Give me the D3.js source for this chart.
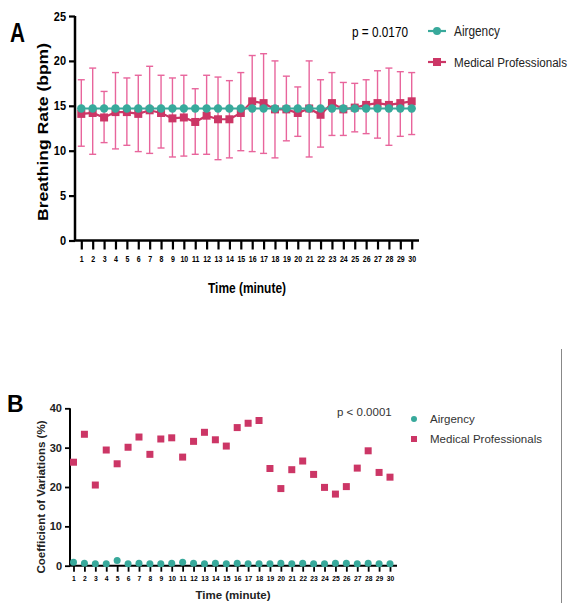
<!DOCTYPE html>
<html>
<head>
<meta charset="utf-8">
<script src="https://cdn.jsdelivr.net/npm/d3@7"></script>
<style>
  body { margin: 0; background: #fff; }
  svg { display: block; }
  text { font-family: "Liberation Sans", Arial, sans-serif; }
</style>
</head>
<body>
<svg id="chart" width="573" height="603"></svg>
<script>
// The data
var minutes = d3.range(1, 31);

// panel A: breathing rate mean and SD
var airgencyRate = [14.7,14.7,14.7,14.7,14.7,14.7,14.7,14.7,14.7,14.7,14.7,14.7,14.7,14.7,14.7,
                    14.7,14.7,14.7,14.7,14.7,14.7,14.7,14.7,14.7,14.7,14.7,14.7,14.7,14.7,14.7];
var medRate = [14.1,14.2,13.7,14.3,14.3,14.1,14.5,14.2,13.6,13.7,13.2,13.9,13.5,13.5,14.2,
               15.5,15.3,14.6,14.6,14.2,14.7,14.0,15.3,14.6,14.8,15.1,15.3,15.1,15.3,15.5];
var medRateHi = [17.9,19.2,16.6,18.7,18.1,18.4,19.4,18.4,18.1,18.4,16.9,18.4,18.2,17.8,18.7,
                 20.6,20.8,20.0,18.3,17.1,20.0,17.9,18.7,17.6,17.5,17.9,18.9,19.2,18.8,18.7];
var medRateLo = [10.5,9.6,10.9,10.2,10.6,9.9,9.7,10.3,9.3,9.4,9.6,9.6,9.0,9.2,10.0,
                 9.9,9.7,9.2,11.1,11.6,9.3,10.4,11.7,11.7,12.1,11.9,11.4,10.6,11.6,11.8];

// panel B: coefficient of variations
var airgencyCV = [0.9,0.6,0.5,0.5,1.3,0.5,0.6,0.5,0.5,0.6,0.9,0.6,0.5,0.6,0.5,
                  0.6,0.5,0.5,0.5,0.6,0.5,0.6,0.5,0.5,0.6,0.6,0.5,0.6,0.5,0.5];
var medCV = [26.3,33.4,20.5,29.4,25.9,30.1,32.7,28.3,32.2,32.5,27.6,31.6,33.9,32.0,30.4,
             35.1,36.2,36.9,24.7,19.6,24.4,26.6,23.2,19.9,18.2,20.1,24.8,29.2,23.7,22.5];

var yTicksA = [0, 5, 10, 15, 20, 25];
var yTicksB = [0, 10, 20, 30, 40];

var teal = "#38a99b", pink = "#cc3666", errPink = "#e8659c";

var svg = d3.select("#chart");

// squeeze a text to a given width (the reference uses a narrow face)
function fit(sel, w) {
  return sel.attr("textLength", w).attr("lengthAdjust", "spacingAndGlyphs");
}

// ---------- Panel A ----------
var xA = d3.scaleLinear().domain([1, 30]).range([81.3, 411.7]);
var yA = d3.scaleLinear().domain([0, 25]).range([240.5, 16]);

var gA = svg.append("g");

// axes
gA.append("line").attr("x1", 75).attr("x2", 419).attr("y1", yA(0)).attr("y2", yA(0))
  .attr("stroke", "#000").attr("stroke-width", 2.5);
gA.append("line").attr("x1", 75).attr("x2", 75).attr("y1", yA(25)).attr("y2", yA(0))
  .attr("stroke", "#000").attr("stroke-width", 2.5);

var axA = gA.append("g").attr("transform", "translate(0," + yA(0) + ")")
  .call(d3.axisBottom(xA).tickValues(minutes).tickSize(9).tickSizeOuter(0).tickPadding(6));
axA.select(".domain").remove();
axA.selectAll("line").attr("stroke-width", 2.2);
axA.selectAll("text").style("font-size", "9px").style("font-weight", "bold").attr("fill", "#000")
  .attr("transform", "scale(0.78,1)");

var ayA = gA.append("g").attr("transform", "translate(75,0)")
  .call(d3.axisLeft(yA).tickValues(yTicksA).tickSize(6).tickSizeOuter(0).tickPadding(2));
ayA.select(".domain").remove();
ayA.selectAll("line").attr("stroke-width", 2.2);
ayA.selectAll("text").style("font-size", "12.5px").style("font-weight", "bold").attr("fill", "#000")
  .attr("x", -9).attr("transform", "translate(-1,0) scale(0.88,1)");

// error bars
var eb = gA.append("g").attr("stroke", errPink).attr("stroke-width", 1.4);
eb.selectAll("line.v").data(minutes).enter().append("line")
  .attr("x1", function(d) { return xA(d); }).attr("x2", function(d) { return xA(d); })
  .attr("y1", function(d, i) { return yA(medRateHi[i]); })
  .attr("y2", function(d, i) { return yA(medRateLo[i]); });
eb.selectAll("line.hi").data(minutes).enter().append("line")
  .attr("x1", function(d) { return xA(d) - 3.5; }).attr("x2", function(d) { return xA(d) + 3.5; })
  .attr("y1", function(d, i) { return yA(medRateHi[i]); })
  .attr("y2", function(d, i) { return yA(medRateHi[i]); });
eb.selectAll("line.lo").data(minutes).enter().append("line")
  .attr("x1", function(d) { return xA(d) - 3.5; }).attr("x2", function(d) { return xA(d) + 3.5; })
  .attr("y1", function(d, i) { return yA(medRateLo[i]); })
  .attr("y2", function(d, i) { return yA(medRateLo[i]); });

// medical line + squares
var lineA = d3.line().x(function(d, i) { return xA(minutes[i]); }).y(function(d) { return yA(d); });
gA.append("path").datum(medRate).attr("d", lineA).attr("fill", "none").attr("stroke", pink).attr("stroke-width", 2.2);
gA.selectAll("rect.med").data(medRate).enter().append("rect")
  .attr("x", function(d, i) { return xA(minutes[i]) - 4; })
  .attr("y", function(d) { return yA(d) - 4; })
  .attr("width", 8).attr("height", 8).attr("fill", pink);

// airgency line + dots
gA.append("path").datum(airgencyRate).attr("d", lineA).attr("fill", "none").attr("stroke", teal).attr("stroke-width", 2.2);
gA.selectAll("circle.air").data(airgencyRate).enter().append("circle")
  .attr("cx", function(d, i) { return xA(minutes[i]); })
  .attr("cy", function(d) { return yA(d); })
  .attr("r", 4.2).attr("fill", teal);

// labels
fit(svg.append("text").attr("x", 10).attr("y", 42)
  .style("font-size", "28px").style("font-weight", "bold").text("A"), 15);
fit(svg.append("text")
  .attr("transform", "translate(48,132) rotate(-90)").attr("text-anchor", "middle")
  .style("font-size", "14.5px").style("font-weight", "bold").text("Breathing Rate (bpm)"), 178);
fit(svg.append("text").attr("x", 208).attr("y", 293)
  .style("font-size", "15px").style("font-weight", "bold").text("Time (minute)"), 78);
fit(svg.append("text").attr("x", 352).attr("y", 37)
  .style("font-size", "14px").text("p = 0.0170"), 56);

// legend A
var legA = svg.append("g");
legA.append("line").attr("x1", 428).attr("x2", 446).attr("y1", 31).attr("y2", 31).attr("stroke", teal).attr("stroke-width", 2.2);
legA.append("circle").attr("cx", 437).attr("cy", 31).attr("r", 4).attr("fill", teal);
fit(legA.append("text").attr("x", 454).attr("y", 36).style("font-size", "14px").attr("fill", "#222").text("Airgency"), 46);
legA.append("line").attr("x1", 428).attr("x2", 446).attr("y1", 62).attr("y2", 62).attr("stroke", pink).attr("stroke-width", 2.2);
legA.append("rect").attr("x", 433).attr("y", 58).attr("width", 8).attr("height", 8).attr("fill", pink);
fit(legA.append("text").attr("x", 454).attr("y", 67).style("font-size", "12px").attr("fill", "#222").text("Medical Professionals"), 113);

// ---------- Panel B ----------
var xB = d3.scaleLinear().domain([1, 30]).range([73.5, 390]);
var yB = d3.scaleLinear().domain([0, 40]).range([565.7, 408.3]);

var gB = svg.append("g");
gB.append("line").attr("x1", 70).attr("x2", 397).attr("y1", yB(0)).attr("y2", yB(0))
  .attr("stroke", "#000").attr("stroke-width", 2);
gB.append("line").attr("x1", 70).attr("x2", 70).attr("y1", yB(40)).attr("y2", yB(0))
  .attr("stroke", "#000").attr("stroke-width", 2);

var axB = gB.append("g").attr("transform", "translate(0," + yB(0) + ")")
  .call(d3.axisBottom(xB).tickValues(minutes).tickSize(6).tickSizeOuter(0).tickPadding(4));
axB.select(".domain").remove();
axB.selectAll("line").attr("stroke-width", 1.8);
axB.selectAll("text").style("font-size", "7.5px").style("font-weight", "bold").attr("fill", "#000")
  .attr("transform", "scale(0.9,1)");

var ayB = gB.append("g").attr("transform", "translate(70,0)")
  .call(d3.axisLeft(yB).tickValues(yTicksB).tickSize(5).tickSizeOuter(0).tickPadding(3));
ayB.select(".domain").remove();
ayB.selectAll("line").attr("stroke-width", 1.8);
ayB.selectAll("text").style("font-size", "11px").style("font-weight", "bold").attr("fill", "#222");

gB.selectAll("rect.med").data(medCV).enter().append("rect")
  .attr("x", function(d, i) { return xB(minutes[i]) - 3.5; })
  .attr("y", function(d) { return yB(d) - 3.5; })
  .attr("width", 7).attr("height", 7).attr("fill", pink);
gB.selectAll("circle.air").data(airgencyCV).enter().append("circle")
  .attr("cx", function(d, i) { return xB(minutes[i]); })
  .attr("cy", function(d) { return yB(d); })
  .attr("r", 3.5).attr("fill", teal);

svg.append("text").attr("x", 7).attr("y", 412)
  .style("font-size", "23px").style("font-weight", "bold").text("B");
fit(svg.append("text")
  .attr("transform", "translate(45,497) rotate(-90)").attr("text-anchor", "middle")
  .style("font-size", "11.5px").style("font-weight", "bold").attr("fill", "#222").text("Coefficient of Variations (%)"), 153);
svg.append("text").attr("x", 233).attr("y", 599).attr("text-anchor", "middle")
  .style("font-size", "11.5px").style("font-weight", "bold").attr("fill", "#222").text("Time (minute)");
svg.append("text").attr("x", 337).attr("y", 416)
  .style("font-size", "11.5px").attr("fill", "#333").text("p < 0.0001");

var legB = svg.append("g");
legB.append("circle").attr("cx", 414).attr("cy", 419).attr("r", 3).attr("fill", teal);
svg.append("text").attr("x", 430).attr("y", 423).style("font-size", "11.5px").attr("fill", "#333").text("Airgency");
legB.append("rect").attr("x", 411).attr("y", 436).attr("width", 6).attr("height", 6).attr("fill", pink);
fit(svg.append("text").attr("x", 430).attr("y", 443).style("font-size", "11.5px").attr("fill", "#333").text("Medical Professionals"), 112);

// right border line
svg.append("line").attr("x1", 561.5).attr("x2", 561.5).attr("y1", 349).attr("y2", 603)
  .attr("stroke", "#888").attr("stroke-width", 1);
</script>
</body>
</html>
